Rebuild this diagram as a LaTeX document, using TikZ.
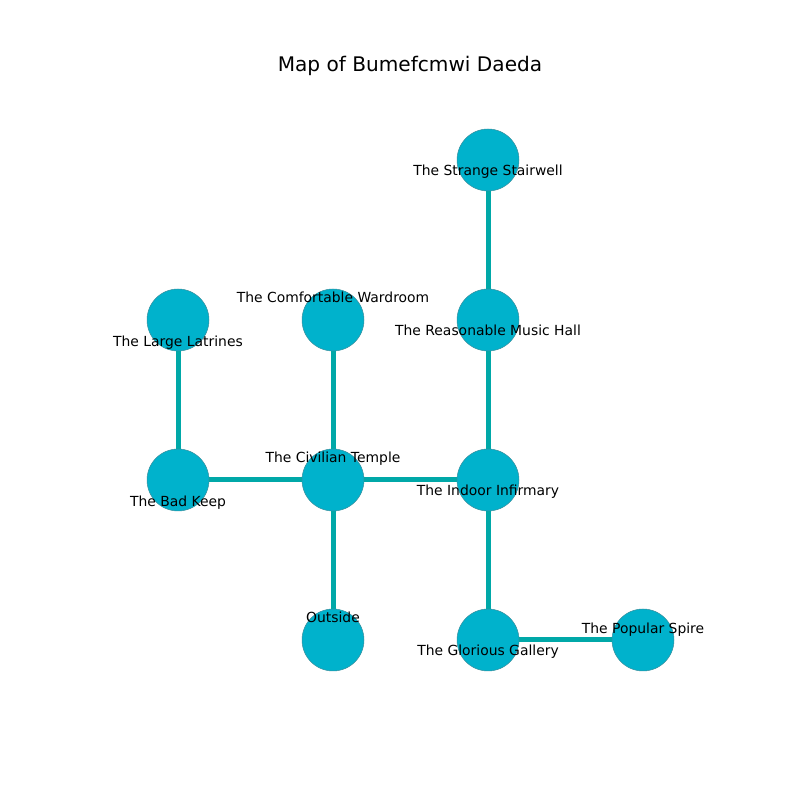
\documentclass[tikz,border=0pt]{standalone}
\usepackage{fontspec}
\setmainfont{DejaVu Sans}
\usetikzlibrary{backgrounds}
\definecolor{roomfill}{HTML}{00B2CC}
\definecolor{roomedge}{HTML}{3A8E9C}
\definecolor{corridor}{HTML}{00A8A8}
\tikzset{
    room/.style={circle, fill=roomfill, draw=roomedge, line width=0.5pt, minimum size=62pt, inner sep=0pt},
    corr/.style={draw=corridor, line width=5pt},
    lbl/.style={anchor=base, font=\fontsize{13.9}{16}\selectfont, inner sep=0pt},
}
\begin{document}
\begin{tikzpicture}[x=1pt, y=1pt]
    \useasboundingbox (0,0) rectangle (800,800);
    \node[anchor=base, font=\fontsize{20.1}{24}\selectfont, inner sep=0pt] (title) at (410,728) {Map of Bumefcmwi Daeda};
    % rooms
    \node[room] (stairwell) at (488,640) {};
    \node[room] (musichall) at (488,480) {};
    \node[room] (wardroom) at (333,480) {};
    \node[room] (latrines) at (178,480) {};
    \node[room] (temple) at (333,320) {};
    \node[room] (keep) at (178,320) {};
    \node[room] (infirmary) at (488,320) {};
    \node[room] (outside) at (333,160) {};
    \node[room] (gallery) at (488,160) {};
    \node[room] (spire) at (643,160) {};
    % corridors
    \begin{scope}[on background layer]
    \draw[corr] (stairwell.center) -- (musichall.center);
    \draw[corr] (musichall.center) -- (infirmary.center);
    \draw[corr] (wardroom.center) -- (temple.center);
    \draw[corr] (latrines.center) -- (keep.center);
    \draw[corr] (keep.center) -- (temple.center);
    \draw[corr] (temple.center) -- (infirmary.center);
    \draw[corr] (temple.center) -- (outside.center);
    \draw[corr] (infirmary.center) -- (gallery.center);
    \draw[corr] (gallery.center) -- (spire.center);
    \end{scope}
    % labels
    \node[lbl] (lstairwell) at ([yshift=-16pt]stairwell.center) {The Strange Stairwell};
    \node[lbl] (lmusichall) at ([yshift=-16pt]musichall.center) {The Reasonable Music Hall};
    \node[lbl] (lwardroom) at ([yshift=17pt]wardroom.center) {The Comfortable Wardroom};
    \node[lbl] (llatrines) at ([yshift=-27pt]latrines.center) {The Large Latrines};
    \node[lbl] (ltemple) at ([yshift=17pt]temple.center) {The Civilian Temple};
    \node[lbl] (lkeep) at ([yshift=-27pt]keep.center) {The Bad Keep};
    \node[lbl] (linfirmary) at ([yshift=-16pt]infirmary.center) {The Indoor Infirmary};
    \node[lbl] (loutside) at ([yshift=17pt]outside.center) {Outside};
    \node[lbl] (lgallery) at ([yshift=-16pt]gallery.center) {The Glorious Gallery};
    \node[lbl] (lspire) at ([yshift=6pt]spire.center) {The Popular Spire};
\end{tikzpicture}
\end{document}
